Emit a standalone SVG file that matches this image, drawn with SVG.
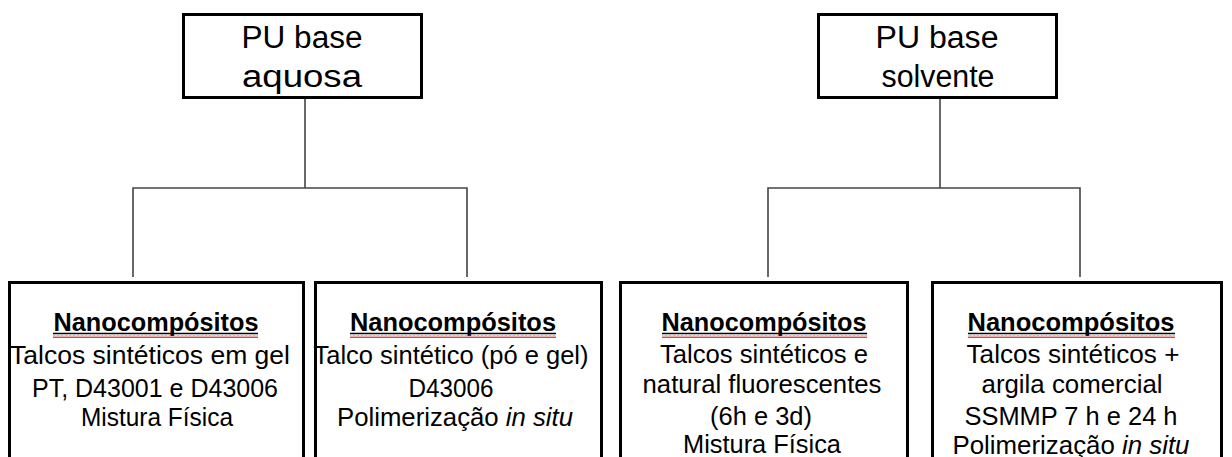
<svg xmlns="http://www.w3.org/2000/svg" width="1232" height="457" viewBox="0 0 1232 457">
<style>
.box{fill:#fff;stroke:#000;stroke-width:3}
.t{font-family:"Liberation Sans",Arial,sans-serif;fill:#000;text-anchor:middle}
.top{font-size:31px}
.reg{font-size:25px}
.bold{font-size:25px;font-weight:bold}
.conn{fill:none;stroke:#444;stroke-width:1.6}
.ul{stroke:#000;stroke-width:1.5}
</style>
<defs>
<pattern id="wave" width="4" height="3" patternUnits="userSpaceOnUse">
<path d="M0,2.5 L1,0.5 L2,2.5 L3,0.5 L4,2.5" fill="none" stroke="#e03030" stroke-width="0.9"/>
</pattern>
</defs>
<rect width="1232" height="457" fill="#fff"/>
<g id="connectors">
<path class="conn" d="M305,98 V188 M133,277 V188 H467 V277"/>
<path class="conn" d="M940,99 V188 M768,277 V188 H1080 V277"/>
</g>
<g id="pu-aquosa">
<rect class="box" x="183.5" y="14.5" width="238" height="83"/>
<text class="t top" x="302" y="48" textLength="121" lengthAdjust="spacingAndGlyphs">PU base</text>
<text class="t top" x="302" y="87" textLength="120" lengthAdjust="spacingAndGlyphs">aquosa</text>
</g>
<g id="pu-solvente">
<rect class="box" x="818.5" y="14.5" width="238" height="83"/>
<text class="t top" x="937" y="48" textLength="123" lengthAdjust="spacingAndGlyphs">PU base</text>
<text class="t top" x="938" y="87" textLength="113" lengthAdjust="spacingAndGlyphs">solvente</text>
</g>
<g id="nano1">
<rect class="box" x="9.5" y="282.5" width="294" height="200"/>
<text class="t bold" x="156" y="331" textLength="205" lengthAdjust="spacingAndGlyphs">Nanocompósitos</text>
<line class="ul" x1="53" y1="333.5" x2="258" y2="333.5"/>
<rect x="53" y="335" width="205" height="3" fill="url(#wave)"/>
<text class="t reg" x="150" y="364" textLength="280" lengthAdjust="spacingAndGlyphs">Talcos sintéticos em gel</text>
<text class="t reg" x="155" y="397" textLength="246" lengthAdjust="spacingAndGlyphs">PT, D43001 e D43006</text>
<text class="t reg" x="157" y="426" textLength="152" lengthAdjust="spacingAndGlyphs">Mistura Física</text>
</g>
<g id="nano2">
<rect class="box" x="315.5" y="282.5" width="286" height="200"/>
<text class="t bold" x="453" y="331" textLength="206" lengthAdjust="spacingAndGlyphs">Nanocompósitos</text>
<line class="ul" x1="350" y1="333.5" x2="556" y2="333.5"/>
<rect x="350" y="335" width="206" height="3" fill="url(#wave)"/>
<text class="t reg" x="451" y="364" textLength="275" lengthAdjust="spacingAndGlyphs">Talco sintético (pó e gel)</text>
<text class="t reg" x="451" y="397" textLength="85" lengthAdjust="spacingAndGlyphs">D43006</text>
<text class="t reg" x="455" y="426" textLength="236" lengthAdjust="spacingAndGlyphs">Polimerização <tspan font-style="italic">in situ</tspan></text>
</g>
<g id="nano3">
<rect class="box" x="620.5" y="282.5" width="287" height="200"/>
<text class="t bold" x="764" y="331" textLength="205" lengthAdjust="spacingAndGlyphs">Nanocompósitos</text>
<line class="ul" x1="662" y1="333.5" x2="867" y2="333.5"/>
<rect x="662" y="335" width="205" height="3" fill="url(#wave)"/>
<text class="t reg" x="764" y="363" textLength="208" lengthAdjust="spacingAndGlyphs">Talcos sintéticos e</text>
<text class="t reg" x="762" y="393" textLength="239" lengthAdjust="spacingAndGlyphs">natural fluorescentes</text>
<text class="t reg" x="761" y="425" textLength="102" lengthAdjust="spacingAndGlyphs">(6h e 3d)</text>
<text class="t reg" x="762" y="453" textLength="158" lengthAdjust="spacingAndGlyphs">Mistura Física</text>
</g>
<g id="nano4">
<rect class="box" x="932.5" y="282.5" width="289" height="200"/>
<text class="t bold" x="1071" y="331" textLength="207" lengthAdjust="spacingAndGlyphs">Nanocompósitos</text>
<line class="ul" x1="968" y1="333.5" x2="1175" y2="333.5"/>
<rect x="968" y="335" width="207" height="3" fill="url(#wave)"/>
<text class="t reg" x="1073" y="363" textLength="213" lengthAdjust="spacingAndGlyphs">Talcos sintéticos +</text>
<text class="t reg" x="1072" y="393" textLength="181" lengthAdjust="spacingAndGlyphs">argila comercial</text>
<text class="t reg" x="1071" y="425" textLength="213" lengthAdjust="spacingAndGlyphs">SSMMP 7 h e 24 h</text>
<text class="t reg" x="1071" y="454" textLength="237" lengthAdjust="spacingAndGlyphs">Polimerização <tspan font-style="italic">in situ</tspan></text>
</g>
</svg>
